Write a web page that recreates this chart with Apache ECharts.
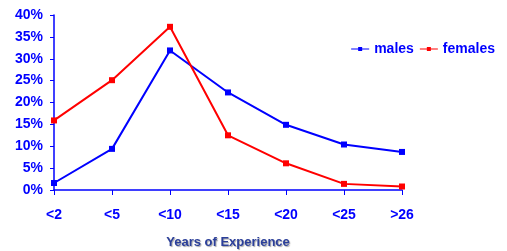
<!DOCTYPE html>
<html>
<head>
<meta charset="utf-8">
<script src="https://cdn.jsdelivr.net/npm/echarts@6/dist/echarts.min.js"></script>
<style>
  html, body { margin: 0; padding: 0; background: #ffffff; }
  #chart { width: 507px; height: 251px; }
</style>
</head>
<body>
<div id="chart"></div>
<script>
const categories = ['<2', '<5', '<10', '<15', '<20', '<25', '>26']
const males = [1.6, 9.4, 31.9, 22.3, 14.9, 10.4, 8.7]
const females = [15.9, 25.1, 37.3, 12.5, 6.1, 1.4, 0.8]
const yTicks = [0, 5, 10, 15, 20, 25, 30, 35, 40]

const blue = '#0000ff'
const red = '#ff0000'
const font = 'Liberation Sans, Arial, sans-serif'

const myChart = echarts.init(document.getElementById('chart'))

const option = {
  animation: false,
  grid: { left: 54, right: 105, top: 15, bottom: 61, outerBoundsMode: 'none', containLabel: false },
  legend: {
    right: 7,
    top: 37,
    itemGap: 6,
    itemWidth: 18,
    itemHeight: 6,
    textStyle: { color: blue, fontSize: 14, fontWeight: 'bold', fontFamily: font },
    data: [
      { name: 'males', icon: 'path://M0,2.5L18,2.5L18,3.5L0,3.5Z M7,1L11,1L11,5L7,5Z' },
      { name: 'females', icon: 'path://M0,2.5L18,2.5L18,3.5L0,3.5Z M7,1L11,1L11,5L7,5Z' }
    ]
  },
  xAxis: {
    type: 'category',
    data: categories,
    boundaryGap: false,
    name: 'Years of Experience',
    nameLocation: 'middle',
    nameGap: 46,
    nameTextStyle: {
      color: '#2b3f9a',
      fontSize: 13,
      fontWeight: 'bold',
      fontFamily: font,
      textShadowColor: 'rgba(0,0,0,0.35)',
      textShadowBlur: 1,
      textShadowOffsetX: 1,
      textShadowOffsetY: 1
    },
    axisLine: { lineStyle: { color: blue, width: 1.5 } },
    axisTick: { inside: false, length: 5, lineStyle: { color: blue } },
    axisLabel: {
      color: blue,
      fontSize: 14,
      fontWeight: 'bold',
      fontFamily: font,
      margin: 18,
      interval: 0
    }
  },
  yAxis: {
    type: 'value',
    min: 0,
    max: 40,
    interval: 5,
    axisLine: { show: true, lineStyle: { color: blue, width: 1.5 } },
    axisTick: { show: true, length: 4, lineStyle: { color: blue } },
    splitLine: { show: false },
    axisLabel: {
      color: blue,
      fontSize: 14,
      fontWeight: 'bold',
      fontFamily: font,
      margin: 11,
      formatter: (v) => (yTicks.includes(v) ? v + '%' : '')
    }
  },
  series: [
    {
      name: 'males',
      type: 'line',
      data: males,
      symbol: 'rect',
      symbolSize: 6,
      itemStyle: { color: blue },
      lineStyle: { color: blue, width: 2 }
    },
    {
      name: 'females',
      type: 'line',
      data: females,
      symbol: 'rect',
      symbolSize: 6,
      itemStyle: { color: red },
      lineStyle: { color: red, width: 2 }
    }
  ]
}

myChart.setOption(option)
</script>
</body>
</html>
